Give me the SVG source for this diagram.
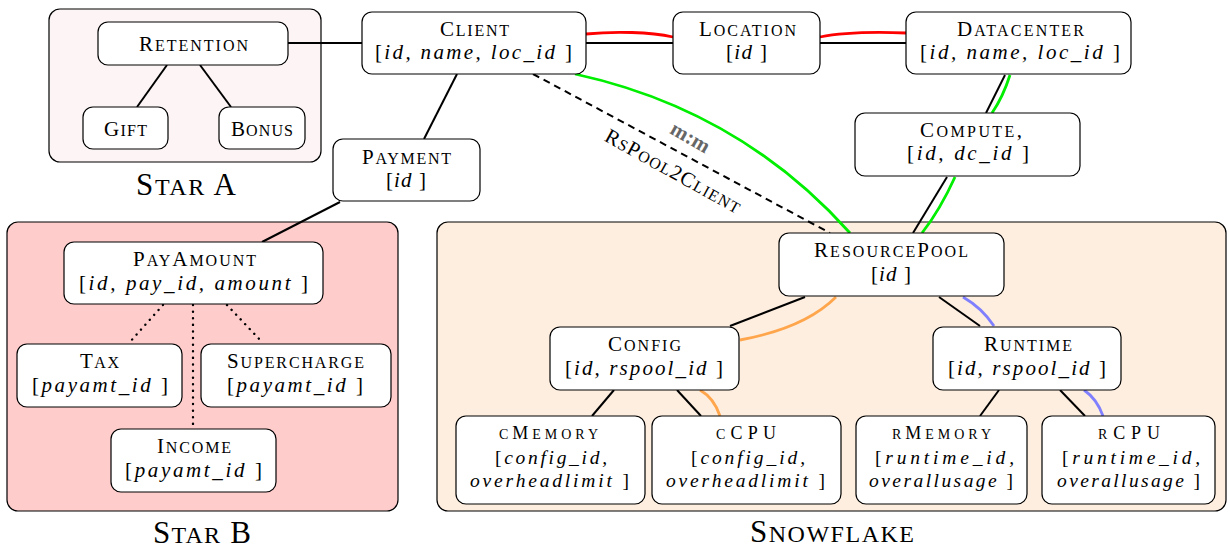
<svg xmlns="http://www.w3.org/2000/svg" width="1230" height="555" viewBox="0 0 1230 555">
<style>
text{font-family:"Liberation Serif","DejaVu Serif",serif;fill:#000}
.t{font-size:21px}
.s{font-size:16px}
.a{font-size:21px;font-style:italic}
.u{font-style:normal}
.lt{font-size:18px}
.ls{font-size:14px}
.la{font-size:19.5px;font-style:italic}
.g{font-size:31px}
.gs{font-size:24px}
.box{fill:#fff;stroke:#000;stroke-width:1.2}
.grp{stroke:#000;stroke-width:1.2}
.c{fill:none;stroke:#000;stroke-width:2}
.red{fill:none;stroke:#ff0000;stroke-width:2.8}
.grn{fill:none;stroke:#00ee00;stroke-width:2.8}
.org{fill:none;stroke:#ffa64d;stroke-width:2.8}
.blu{fill:none;stroke:#8080ff;stroke-width:2.8}
.dash{fill:none;stroke:#000;stroke-width:2;stroke-dasharray:7 5}
.dot{fill:none;stroke:#000;stroke-width:2.4;stroke-dasharray:0.1 6.5;stroke-linecap:round}
</style>
<rect width="1230" height="555" fill="#fff"/>
<g id="groups">
  <rect class="grp" x="49" y="9" width="272" height="153" rx="11" fill="#fdf5f5"/>
  <text class="g" x="136" y="195" textLength="100">S<tspan class="gs">TAR</tspan> A</text>
  <rect class="grp" x="7" y="222" width="391" height="289" rx="11" fill="#ffcccc"/>
  <text class="g" x="153" y="543" textLength="98">S<tspan class="gs">TAR</tspan> B</text>
  <rect class="grp" x="437" y="222" width="789" height="289" rx="11" fill="#fdeee0"/>
  <text class="g" x="750" y="542" textLength="164">S<tspan class="gs">NOWFLAKE</tspan></text>
</g>
<g id="connectors">
  <line class="c" x1="288" y1="43" x2="362" y2="43"/>
  <line class="c" x1="167" y1="65" x2="137" y2="107"/>
  <line class="c" x1="200" y1="65" x2="231" y2="107"/>
  <line class="c" x1="457" y1="74" x2="424" y2="139"/>
  <line class="c" x1="586" y1="43" x2="673" y2="43"/>
  <path class="red" d="M586,34 C615,31 650,32 673,37"/>
  <line class="c" x1="820" y1="43" x2="906" y2="43"/>
  <path class="red" d="M820,37 C845,32 880,32 906,33"/>
  <line class="c" x1="1005" y1="75" x2="986" y2="113"/>
  <path class="grn" d="M1010,75 Q1003,97 992,113"/>
  <line class="c" x1="947" y1="177" x2="913" y2="233"/>
  <path class="grn" d="M955,177 Q940,210 922,233"/>
  <line class="dash" x1="533" y1="74" x2="830" y2="233"/>
  <path class="grn" d="M575,74 Q740,110 850,233"/>
  <text transform="translate(690,138) rotate(30)" x="-21" y="6" font-size="21" font-weight="bold" style="fill:#666" textLength="42">m:m</text>
  <text class="t" transform="translate(673,171) rotate(29)" x="-76" y="7" textLength="152">R<tspan class="s">S</tspan>P<tspan class="s">OOL</tspan>2C<tspan class="s">LIENT</tspan></text>
  <line class="c" x1="340" y1="202" x2="262" y2="242"/>
  <line class="dot" x1="163" y1="305" x2="129" y2="343"/>
  <line class="dot" x1="193" y1="305" x2="193" y2="428"/>
  <line class="dot" x1="227" y1="305" x2="263" y2="343"/>
  <line class="c" x1="805" y1="297" x2="730" y2="326"/>
  <path class="org" d="M836,297 Q805,328 740,340"/>
  <line class="c" x1="939" y1="297" x2="980" y2="326"/>
  <path class="blu" d="M963,297 Q982,308 994,326"/>
  <line class="c" x1="614" y1="390" x2="592" y2="416"/>
  <line class="c" x1="677" y1="390" x2="701" y2="416"/>
  <path class="org" d="M700,390 Q714,398 720,416"/>
  <line class="c" x1="999" y1="390" x2="980" y2="416"/>
  <line class="c" x1="1060" y1="390" x2="1085" y2="416"/>
  <path class="blu" d="M1084,390 Q1097,399 1103,416"/>
</g>
<g id="retention">
  <rect class="box" x="98" y="22" width="190" height="43" rx="10"/>
  <text class="t" x="139" y="51" textLength="109">R<tspan class="s">ETENTION</tspan></text>
</g>
<g id="gift">
  <rect class="box" x="83" y="107" width="85" height="42" rx="10"/>
  <text class="t" x="104" y="136" textLength="43">G<tspan class="s">IFT</tspan></text>
</g>
<g id="bonus">
  <rect class="box" x="219" y="107" width="86" height="42" rx="10"/>
  <text class="t" x="231" y="136" textLength="62">B<tspan class="s">ONUS</tspan></text>
</g>
<g id="client">
  <rect class="box" x="362" y="12" width="224" height="62" rx="10"/>
  <text class="t" x="440" y="36" textLength="69">C<tspan class="s">LIENT</tspan></text>
  <text class="a" x="375" y="59" textLength="197"><tspan class="u">[</tspan>id, name, loc_id <tspan class="u">]</tspan></text>
</g>
<g id="location">
  <rect class="box" x="673" y="12" width="147" height="62" rx="10"/>
  <text class="t" x="699" y="36" textLength="97">L<tspan class="s">OCATION</tspan></text>
  <text class="a" x="726" y="59" textLength="41"><tspan class="u">[</tspan>id <tspan class="u">]</tspan></text>
</g>
<g id="datacenter">
  <rect class="box" x="906" y="12" width="225" height="62" rx="10"/>
  <text class="t" x="957" y="36" textLength="127">D<tspan class="s">ATACENTER</tspan></text>
  <text class="a" x="920" y="59" textLength="200"><tspan class="u">[</tspan>id, name, loc_id <tspan class="u">]</tspan></text>
</g>
<g id="compute">
  <rect class="box" x="855" y="113" width="225" height="63" rx="10"/>
  <text class="t" x="920" y="137" textLength="102">C<tspan class="s">OMPUTE</tspan>,</text>
  <text class="a" x="907" y="160" textLength="122"><tspan class="u">[</tspan>id, dc_id <tspan class="u">]</tspan></text>
</g>
<g id="payment">
  <rect class="box" x="333" y="139" width="147" height="62" rx="10"/>
  <text class="t" x="362" y="164" textLength="89">P<tspan class="s">AYMENT</tspan></text>
  <text class="a" x="386" y="187" textLength="40"><tspan class="u">[</tspan>id <tspan class="u">]</tspan></text>
</g>
<g id="payamount">
  <rect class="box" x="64" y="242" width="259" height="62" rx="10"/>
  <text class="t" x="133" y="266" textLength="123">P<tspan class="s">AY</tspan>A<tspan class="s">MOUNT</tspan></text>
  <text class="a" x="79" y="290" textLength="229"><tspan class="u">[</tspan>id, pay_id, amount <tspan class="u">]</tspan></text>
</g>
<g id="tax">
  <rect class="box" x="17" y="344" width="165" height="63" rx="10"/>
  <text class="t" x="80" y="368" textLength="39">T<tspan class="s">AX</tspan></text>
  <text class="a" x="32" y="392" textLength="136"><tspan class="u">[</tspan>payamt_id <tspan class="u">]</tspan></text>
</g>
<g id="supercharge">
  <rect class="box" x="201" y="344" width="190" height="63" rx="10"/>
  <text class="t" x="227" y="368" textLength="137">S<tspan class="s">UPERCHARGE</tspan></text>
  <text class="a" x="227" y="392" textLength="136"><tspan class="u">[</tspan>payamt_id <tspan class="u">]</tspan></text>
</g>
<g id="income">
  <rect class="box" x="111" y="429" width="165" height="63" rx="10"/>
  <text class="t" x="157" y="453" textLength="74">I<tspan class="s">NCOME</tspan></text>
  <text class="a" x="125" y="477" textLength="137"><tspan class="u">[</tspan>payamt_id <tspan class="u">]</tspan></text>
</g>
<g id="resourcepool">
  <rect class="box" x="779" y="233" width="225" height="63" rx="10"/>
  <text class="t" x="814" y="257" textLength="154">R<tspan class="s">ESOURCE</tspan>P<tspan class="s">OOL</tspan></text>
  <text class="a" x="871" y="281" textLength="40"><tspan class="u">[</tspan>id <tspan class="u">]</tspan></text>
</g>
<g id="config">
  <rect class="box" x="550" y="327" width="189" height="63" rx="10"/>
  <text class="t" x="608" y="351" textLength="73">C<tspan class="s">ONFIG</tspan></text>
  <text class="a" x="565" y="375" textLength="158"><tspan class="u">[</tspan>id, rspool_id <tspan class="u">]</tspan></text>
</g>
<g id="runtime">
  <rect class="box" x="933" y="327" width="188" height="63" rx="10"/>
  <text class="t" x="984" y="351" textLength="88">R<tspan class="s">UNTIME</tspan></text>
  <text class="a" x="948" y="375" textLength="158"><tspan class="u">[</tspan>id, rspool_id <tspan class="u">]</tspan></text>
</g>
<g id="cmemory">
  <rect class="box" x="456" y="416" width="189" height="88" rx="10"/>
  <text class="lt" x="499" y="439" textLength="99"><tspan class="ls">C</tspan>M<tspan class="ls">EMORY</tspan></text>
  <text class="la" x="495" y="464" textLength="112"><tspan class="u">[</tspan>config_id,</text>
  <text class="la" x="470" y="487" textLength="159">overheadlimit <tspan class="u">]</tspan></text>
</g>
<g id="ccpu">
  <rect class="box" x="652" y="416" width="189" height="88" rx="10"/>
  <text class="lt" x="716" y="439" textLength="60"><tspan class="ls">C</tspan>CPU</text>
  <text class="la" x="691" y="464" textLength="114"><tspan class="u">[</tspan>config_id,</text>
  <text class="la" x="666" y="487" textLength="159">overheadlimit <tspan class="u">]</tspan></text>
</g>
<g id="rmemory">
  <rect class="box" x="856" y="416" width="171" height="88" rx="10"/>
  <text class="lt" x="892" y="439" textLength="99"><tspan class="ls">R</tspan>M<tspan class="ls">EMORY</tspan></text>
  <text class="la" x="875" y="464" textLength="139"><tspan class="u">[</tspan>runtime_id,</text>
  <text class="la" x="869" y="487" textLength="144">overallusage <tspan class="u">]</tspan></text>
</g>
<g id="rcpu">
  <rect class="box" x="1042" y="416" width="173" height="88" rx="10"/>
  <text class="lt" x="1098" y="439" textLength="62"><tspan class="ls">R</tspan>CPU</text>
  <text class="la" x="1062" y="464" textLength="138"><tspan class="u">[</tspan>runtime_id,</text>
  <text class="la" x="1057" y="487" textLength="143">overallusage <tspan class="u">]</tspan></text>
</g>
</svg>
